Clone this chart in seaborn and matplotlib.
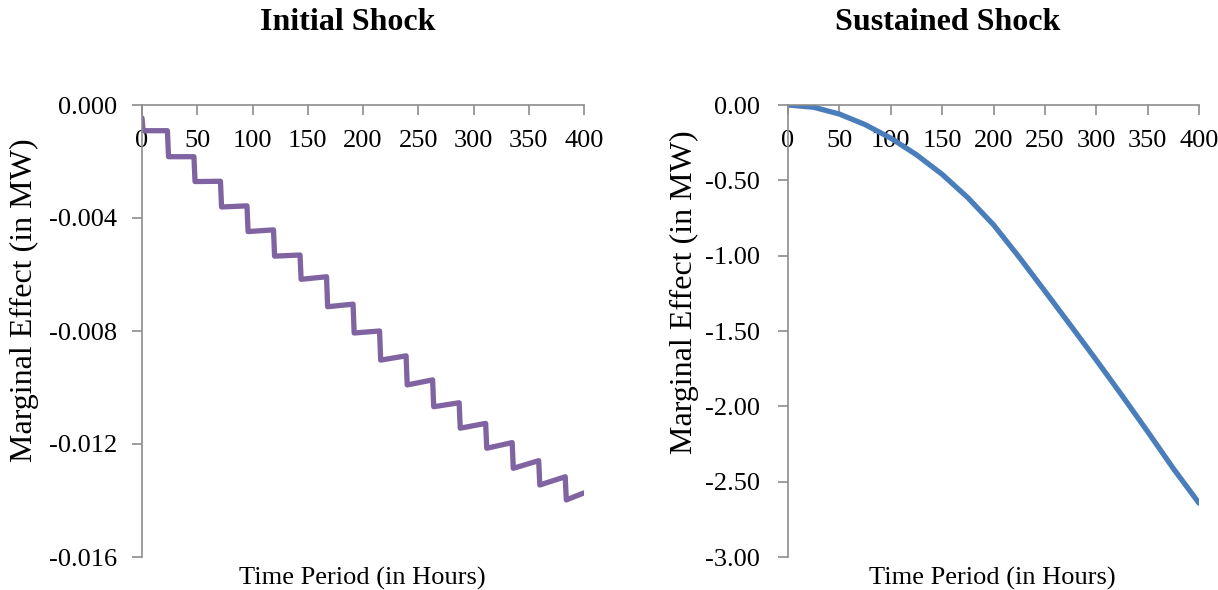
import matplotlib
matplotlib.use("Agg")
import matplotlib.pyplot as plt
import seaborn as sns
import pandas as pd

# ---- data ----
# Initial shock: corner points of the daily step pattern (hour, marginal effect)
initial_hours = [0, 1, 23, 24, 47, 48, 71, 72, 95, 96, 119, 120, 143, 144, 167,
                 168, 191, 192, 215, 216, 239, 240, 263, 264, 287, 288, 311,
                 312, 335, 336, 359, 360, 383, 384, 400]
initial_values = [-0.00046, -0.00091, -0.00091, -0.00183, -0.00183, -0.00271,
                  -0.00270, -0.00361, -0.00357, -0.00448, -0.00442, -0.00535,
                  -0.00531, -0.00617, -0.00608, -0.00714, -0.00705, -0.00807,
                  -0.00800, -0.00903, -0.00888, -0.00991, -0.00973, -0.01068,
                  -0.01054, -0.01144, -0.01127, -0.01215, -0.01195, -0.01286,
                  -0.01259, -0.01345, -0.01316, -0.01398, -0.01373]

# Sustained shock
sustained_hours = [0, 25, 50, 75, 100, 125, 150, 175, 200, 225, 250, 275, 300,
                   325, 350, 375, 400]
sustained_values = [0.000, -0.015, -0.060, -0.130, -0.220, -0.330, -0.460,
                    -0.615, -0.795, -1.010, -1.235, -1.4625, -1.6925, -1.9275,
                    -2.1675, -2.4125, -2.6425]

x_ticks = [0, 50, 100, 150, 200, 250, 300, 350, 400]
left_yticks = [0.000, -0.004, -0.008, -0.012, -0.016]
left_yticklabels = ["0.000", "-0.004", "-0.008", "-0.012", "-0.016"]
right_yticks = [0.0, -0.5, -1.0, -1.5, -2.0, -2.5, -3.0]
right_yticklabels = ["0.00", "-0.50", "-1.00", "-1.50", "-2.00", "-2.50", "-3.00"]

titles = ["Initial Shock", "Sustained Shock"]
xlabel = "Time Period (in Hours)"
ylabel = "Marginal Effect (in MW)"

# ---- style ----
sns.set_theme(style="white")
plt.rcParams["font.family"] = ["Liberation Serif", "DejaVu Serif"]
plt.rcParams["axes.unicode_minus"] = False
plt.rcParams["text.color"] = "black"
plt.rcParams["xtick.color"] = "black"
plt.rcParams["ytick.color"] = "black"

W, H = 1218, 590
fig = plt.figure(figsize=(W / 100, H / 100), dpi=100)

def px_axes(l, r, t, b):
    return fig.add_axes([l / W, 1 - b / H, (r - l) / W, (b - t) / H])

axL = px_axes(142, 584, 105, 557)
axR = px_axes(788, 1199, 105, 557)

dfL = pd.DataFrame({"hour": initial_hours, "effect": initial_values})
dfR = pd.DataFrame({"hour": sustained_hours, "effect": sustained_values})

sns.lineplot(data=dfL, x="hour", y="effect", ax=axL, color="#8064A2",
             linewidth=3.8, sort=False, estimator=None)
sns.lineplot(data=dfR, x="hour", y="effect", ax=axR, color="#4A7EBB",
             linewidth=3.8, sort=False, estimator=None)

spine_col = "#8C8C8C"
for ax, yt, ytl, ylim, ypad in [(axL, left_yticks, left_yticklabels, (-0.016, 0.0), 11),
                               (axR, right_yticks, right_yticklabels, (-3.0, 0.0), 13)]:
    ax.set_xlim(0, 400)
    ax.set_ylim(*ylim)
    ax.set_xticks(x_ticks)
    ax.set_xticklabels([str(v) for v in x_ticks])
    ax.set_yticks(yt)
    ax.set_yticklabels(ytl)
    ax.spines["right"].set_visible(False)
    ax.spines["top"].set_visible(False)
    ax.spines["bottom"].set_position(("data", 0))
    for s in ("left", "bottom"):
        ax.spines[s].set_color(spine_col)
        ax.spines[s].set_linewidth(1.2)
    ax.tick_params(axis="x", direction="out", length=7, width=1.2, color=spine_col,
                   labelsize=19, pad=11, labelcolor="black", bottom=True)
    ax.tick_params(axis="y", direction="out", length=7, width=1.2, color=spine_col,
                   labelsize=19, pad=ypad, labelcolor="black", left=True)
    ax.set_xlabel("")
    ax.set_ylabel("")
    ax.grid(False)
    ax.set_facecolor("white")

# titles
fig.text(348 / W, 1 - 22 / H, titles[0], ha="center", va="center",
         fontsize=23, fontweight="bold", color="black")
fig.text(948 / W, 1 - 22 / H, titles[1], ha="center", va="center",
         fontsize=23, fontweight="bold", color="black")
# x labels
fig.text(362 / W, 1 - 578 / H, xlabel, ha="center", va="center", fontsize=19, color="black")
fig.text(992 / W, 1 - 578 / H, xlabel, ha="center", va="center", fontsize=19, color="black")
# y labels
fig.text(24 / W, 1 - 300 / H, ylabel, ha="center", va="center", rotation=90,
         fontsize=23, color="black")
fig.text(684 / W, 1 - 292 / H, ylabel, ha="center", va="center", rotation=90,
         fontsize=23, color="black")

fig.savefig("out.png", dpi=100, facecolor="white")
